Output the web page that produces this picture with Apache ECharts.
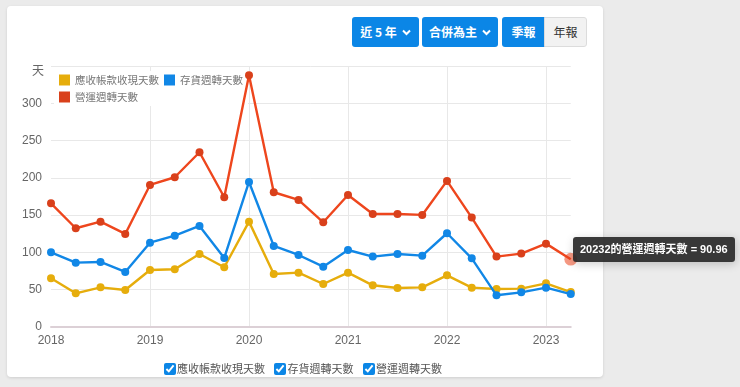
<!DOCTYPE html>
<html>
<head>
<meta charset="utf-8">
<script src="https://cdn.jsdelivr.net/npm/echarts@6/dist/echarts.min.js"></script>
<style>
  html,body{margin:0;padding:0;background:#ebebeb;width:740px;height:387px;overflow:hidden;
    font-family:Arial,"Liberation Sans","Noto Sans CJK TC",sans-serif;}
  #card{position:absolute;left:7px;top:6px;width:596px;height:371px;background:#fff;border-radius:4px;
    box-shadow:0 1px 3px rgba(0,0,0,0.12);}
  #chart{position:absolute;left:0;top:0;width:740px;height:387px;}
  .btn{position:absolute;top:17px;height:30px;line-height:30px;text-align:center;font-size:12px;font-weight:bold;
    color:#fff;background:#0b86e6;border-radius:3px;box-sizing:border-box;font-family:"Noto Sans CJK TC",Arial,sans-serif;}
  .btn svg{vertical-align:middle;margin-left:5px;margin-top:-2px;}
  .gray{background:#f2f2f2;color:#333;border:1px solid #dcdcdc;line-height:28px;font-weight:normal;border-radius:0 3px 3px 0;}
  .cbs{position:absolute;top:360px;left:164px;font-size:11px;color:#555;font-family:"Noto Sans CJK TC",sans-serif;white-space:nowrap;}
  .cbs label{margin-right:7px;}
  .cbs input{width:12px;height:12px;margin:0 1px 0 0;vertical-align:-2px;accent-color:#0b86e6;}
</style>
</head>
<body>
<div id="card"></div>
<div id="chart"></div>
<div class="btn" style="left:352px;width:67px;">近 5 年<svg width="9" height="7" viewBox="0 0 9 7"><path d="M1 1.5 L4.5 5 L8 1.5" stroke="#fff" stroke-width="2" fill="none"/></svg></div>
<div class="btn" style="left:422px;width:76px;">合併為主<svg width="9" height="7" viewBox="0 0 9 7"><path d="M1 1.5 L4.5 5 L8 1.5" stroke="#fff" stroke-width="2" fill="none"/></svg></div>
<div class="btn" style="left:502px;width:43px;border-radius:3px 0 0 3px;">季報</div>
<div class="btn gray" style="left:544px;width:43px;">年報</div>
<div class="cbs">
  <label><input type="checkbox" checked>應收帳款收現天數</label>
  <label><input type="checkbox" checked>存貨週轉天數</label>
  <label><input type="checkbox" checked>營運週轉天數</label>
</div>
<script>
const periods = ['20181','20182','20183','20184','20191','20192','20193','20194','20201','20202','20203','20204',
                 '20211','20212','20213','20214','20221','20222','20223','20224','20231','20232'];
const seriesNames = ['應收帳款收現天數','存貨週轉天數','營運週轉天數'];
const arDays  = [65.3,45.2,53.2,49.6,76.5,77.4,97.9,80.1,141.3,71.1,72.9,57.7,72.9,55.9,52.3,53.2,69.3,52.8,51.0,51.4,58.6,46.9];
const invDays = [100.2,86.3,87.2,73.8,113.1,122.5,135.5,92.6,194.5,108.7,96.6,80.9,103.3,94.4,97.9,95.7,125.7,92.1,42.5,46.5,52.8,44.1];
const opDays  = [165.9,132.4,141.3,124.8,190.5,200.8,234.3,174.0,337.7,180.7,170.4,140.4,177.1,151.6,151.6,150.3,195.9,146.7,94.4,98.4,111.8,90.96];
const yTicks = [0,50,100,150,200,250,300];
const yUnit = '天';
const colors = ['#e6ad0c','#1187e6','#d9401b'];

const toX = p => Number(p.slice(0,4)) + (Number(p.slice(4)) - 1) / 4;
const mk = arr => arr.map((v,i) => [toX(periods[i]), v, periods[i]]);
const font = 'Arial,"Liberation Sans","Noto Sans CJK TC",sans-serif';

const chart = echarts.init(document.getElementById('chart'), null, {renderer:'canvas'});
const xMin = toX(periods[0]), xMax = toX(periods[periods.length-1]);
chart.setOption({
  animation:false,
  color:colors,
  grid:{left:51,right:740-51-(xMax-xMin)*99,top:66,bottom:60},
  graphic:[{type:'text',left:32,top:64,style:{text:yUnit,fill:'#666',font:'12px "Noto Sans CJK TC",sans-serif'}}],
  legend:{
    data:seriesNames, left:54, top:71, width:186, padding:[3,5], itemGap:5, z:1,
    backgroundColor:'#fff', icon:'rect', itemWidth:11, itemHeight:11,
    textStyle:{color:'#777',fontSize:10.5,lineHeight:12,fontFamily:'"Noto Sans CJK TC",sans-serif'}
  },
  tooltip:{
    trigger:'item', triggerOn:'none', alwaysShowContent:true, transitionDuration:0,
    backgroundColor:'rgba(40,40,40,0.92)', borderWidth:0, borderRadius:3, padding:[5,7],
    textStyle:{color:'#fff',fontSize:11,lineHeight:15,fontWeight:'bold',fontFamily:'Arial,"Noto Sans CJK TC",sans-serif'},
    position:function(){return [573,237];},
    formatter:function(p){return p.data[2]+'的'+p.seriesName+' = '+p.data[1];}
  },
  xAxis:{
    type:'value', min:xMin, max:xMax, interval:1,
    axisLine:{show:true,lineStyle:{color:'#dcd0d6',width:2}},
    axisTick:{show:false},
    axisLabel:{color:'#666',fontSize:12,margin:8,fontFamily:font,
      formatter:v=>Number.isInteger(v)?String(v):'' , showMaxLabel:false},
    splitLine:{show:true,showMinLine:false,showMaxLine:false,lineStyle:{color:'#e8e8e8'}}
  },
  yAxis:{
    type:'value', min:0, max:350, interval:50,
    axisLine:{show:false}, axisTick:{show:false},
    axisLabel:{color:'#666',fontSize:12,margin:9,fontFamily:font,
      formatter:v=>yTicks.indexOf(v)>=0?String(v):''},
    splitLine:{lineStyle:{color:'#e8e8e8'}}
  },
  series:[arDays,invDays,opDays].map((arr,i)=>({
    name:seriesNames[i], type:'line', data:mk(arr), z:3+i,
    symbol:'circle', symbolSize:8, showSymbol:true,
    lineStyle:{width:2.4,color:colors[i]}, itemStyle:{color:colors[i]},
    emphasis:{scale:1.6,itemStyle:{opacity:0.55}}
  }))
});
chart.dispatchAction({type:'highlight',seriesIndex:2,dataIndex:periods.length-1});
chart.dispatchAction({type:'showTip',seriesIndex:2,dataIndex:periods.length-1});
</script>
</body>
</html>
